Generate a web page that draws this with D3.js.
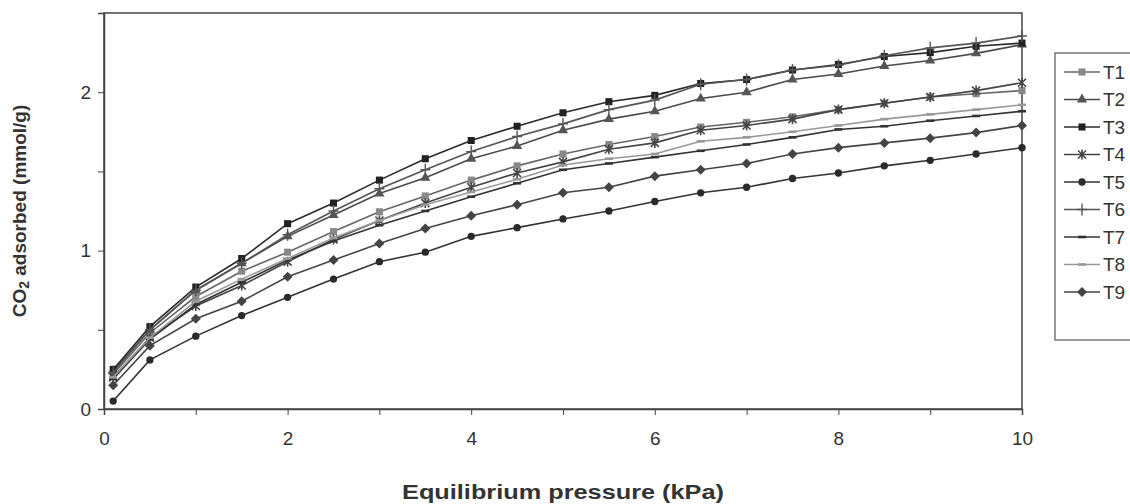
<!DOCTYPE html>
<html>
<head>
<meta charset="utf-8">
<script src="https://cdn.jsdelivr.net/npm/d3@7"></script>
<style>
  body { margin: 0; background: #fff; }
  svg text { font-family: "Liberation Sans", Arial, sans-serif; }
</style>
</head>
<body>
<svg id="chart" width="1130" height="504"></svg>
<script>
const pressure = [0.1, 0.5, 1, 1.5, 2, 2.5, 3, 3.5, 4, 4.5, 5, 5.5, 6, 6.5, 7, 7.5, 8, 8.5, 9, 9.5, 10];

const T1 = [0.22, 0.48, 0.71, 0.87, 0.99, 1.12, 1.245, 1.345, 1.445, 1.535, 1.61, 1.67, 1.72, 1.78, 1.81, 1.845, 1.89, 1.93, 1.97, 1.99, 2.01];
const T2 = [0.24, 0.50, 0.75, 0.92, 1.09, 1.225, 1.36, 1.46, 1.58, 1.66, 1.76, 1.83, 1.88, 1.96, 2.00, 2.08, 2.115, 2.165, 2.20, 2.245, 2.30];
const T3 = [0.25, 0.52, 0.77, 0.95, 1.17, 1.30, 1.445, 1.58, 1.695, 1.785, 1.87, 1.94, 1.98, 2.055, 2.08, 2.14, 2.175, 2.225, 2.25, 2.29, 2.31];
const T4 = [0.20, 0.45, 0.65, 0.78, 0.93, 1.07, 1.19, 1.30, 1.40, 1.49, 1.56, 1.64, 1.68, 1.76, 1.79, 1.83, 1.89, 1.93, 1.97, 2.01, 2.06];
const T5 = [0.05, 0.31, 0.46, 0.59, 0.705, 0.82, 0.93, 0.99, 1.09, 1.145, 1.20, 1.25, 1.31, 1.365, 1.40, 1.455, 1.49, 1.535, 1.57, 1.61, 1.65];
const T6 = [0.23, 0.50, 0.75, 0.92, 1.10, 1.25, 1.39, 1.51, 1.625, 1.72, 1.80, 1.89, 1.95, 2.05, 2.08, 2.14, 2.17, 2.23, 2.28, 2.31, 2.355];
const T7 = [0.19, 0.44, 0.66, 0.80, 0.94, 1.06, 1.16, 1.25, 1.34, 1.425, 1.51, 1.55, 1.59, 1.63, 1.67, 1.715, 1.765, 1.785, 1.82, 1.85, 1.88];
const T8 = [0.20, 0.45, 0.68, 0.82, 0.95, 1.08, 1.19, 1.29, 1.37, 1.45, 1.54, 1.58, 1.61, 1.69, 1.715, 1.75, 1.79, 1.83, 1.86, 1.89, 1.92];
const T9 = [0.15, 0.40, 0.57, 0.68, 0.835, 0.94, 1.045, 1.14, 1.22, 1.29, 1.365, 1.40, 1.47, 1.51, 1.55, 1.61, 1.65, 1.68, 1.71, 1.745, 1.79];

const seriesNames = ['T1', 'T2', 'T3', 'T4', 'T5', 'T6', 'T7', 'T8', 'T9'];
const xTicks = [0, 2, 4, 6, 8, 10];
const yTicks = [0, 1, 2];

const series = [
  {name: 'T1', values: T1, line: '#666', mark: '#888', shape: 'square'},
  {name: 'T2', values: T2, line: '#4a4a4a', mark: '#555', shape: 'triangle'},
  {name: 'T3', values: T3, line: '#2a2a2a', mark: '#222', shape: 'square'},
  {name: 'T4', values: T4, line: '#444', mark: '#444', shape: 'star'},
  {name: 'T5', values: T5, line: '#333', mark: '#2a2a2a', shape: 'circle'},
  {name: 'T6', values: T6, line: '#555', mark: '#555', shape: 'plus'},
  {name: 'T7', values: T7, line: '#333', mark: '#333', shape: 'dash'},
  {name: 'T8', values: T8, line: '#999', mark: '#999', shape: 'dash'},
  {name: 'T9', values: T9, line: '#444', mark: '#444', shape: 'diamond'}
];

const svg = d3.select('#chart');

const x = d3.scaleLinear().domain([0, 10]).range([104, 1022]);
const y = d3.scaleLinear().domain([0, 2.5]).range([409, 13]);

// frame
svg.append('rect')
  .attr('x', x(0)).attr('y', y(2.5))
  .attr('width', x(10) - x(0)).attr('height', y(0) - y(2.5))
  .attr('fill', 'none').attr('stroke', '#444').attr('stroke-width', 1.5);

// x axis
const xAxis = svg.append('g')
  .attr('transform', `translate(0,${y(0)})`)
  .call(d3.axisBottom(x).tickValues(d3.range(0, 11, 1)).tickSize(6).tickFormat(d => xTicks.includes(d) ? d : ''));
xAxis.select('.domain').attr('stroke', '#444').attr('stroke-width', 1.5);
xAxis.selectAll('.tick line').attr('stroke', '#444');
xAxis.selectAll('.tick text').attr('font-size', 19).attr('fill', '#333').attr('y', 23).attr('dy', '0.71em')
  .attr('font-family', '"Liberation Sans", Arial, sans-serif');

// y axis
const yAxis = svg.append('g')
  .attr('transform', `translate(${x(0)},0)`)
  .call(d3.axisLeft(y).tickValues(d3.range(0, 2.51, 0.5)).tickSize(6).tickFormat(d => yTicks.includes(d) ? d : ''));
yAxis.select('.domain').attr('stroke', '#444').attr('stroke-width', 1.5);
yAxis.selectAll('.tick line').attr('stroke', '#444');
yAxis.selectAll('.tick text').attr('font-size', 19).attr('fill', '#333').attr('x', -13)
  .attr('font-family', '"Liberation Sans", Arial, sans-serif');

// axis titles
svg.append('text')
  .attr('x', (x(0) + x(10)) / 2).attr('y', 499)
  .attr('text-anchor', 'middle').attr('font-size', 20).attr('font-weight', 'bold').attr('fill', '#333')
  .attr('textLength', 322).attr('lengthAdjust', 'spacingAndGlyphs')
  .text('Equilibrium pressure (kPa)');

const yt = svg.append('text')
  .attr('transform', `translate(26,${y(1.25)}) rotate(-90)`)
  .attr('text-anchor', 'middle').attr('font-size', 19).attr('font-weight', 'bold').attr('fill', '#333');
yt.append('tspan').text('CO');
yt.append('tspan').attr('font-size', 14).attr('dy', 3).text('2');
yt.append('tspan').attr('dy', -3).text(' adsorbed (mmol/g)');

function drawMarker(g, shape, color) {
  if (shape === 'square') {
    g.append('path').attr('d', d3.symbol(d3.symbolSquare, 50)()).attr('fill', color);
  } else if (shape === 'triangle') {
    g.append('path').attr('d', d3.symbol(d3.symbolTriangle, 45)()).attr('fill', color);
  } else if (shape === 'circle') {
    g.append('path').attr('d', d3.symbol(d3.symbolCircle, 42)()).attr('fill', color);
  } else if (shape === 'diamond') {
    g.append('path').attr('d', 'M0,-5L5,0L0,5L-5,0Z').attr('fill', color);
  } else if (shape === 'star') {
    g.append('path').attr('d', 'M-4,-4L4,4M-4,4L4,-4M0,-5L0,5')
      .attr('stroke', color).attr('stroke-width', 1.6).attr('fill', 'none');
  } else if (shape === 'plus') {
    g.append('path').attr('d', 'M-5,0L5,0M0,-6L0,6')
      .attr('stroke', color).attr('stroke-width', 1.4).attr('fill', 'none');
  } else if (shape === 'dash') {
    g.append('path').attr('d', 'M-4,0L4,0')
      .attr('stroke', color).attr('stroke-width', 2.6).attr('fill', 'none');
  }
}

const line = d3.line().x(d => x(d[0])).y(d => y(d[1]));

series.forEach(s => {
  const pts = pressure.map((p, i) => [p, s.values[i]]);
  const g = svg.append('g');
  g.append('path')
    .attr('d', line(pts))
    .attr('fill', 'none').attr('stroke', s.line).attr('stroke-width', 1.6);
  g.selectAll('g.m')
    .data(pts)
    .join('g')
    .attr('class', 'm')
    .attr('transform', d => `translate(${x(d[0])},${y(d[1])})`)
    .each(function() { drawMarker(d3.select(this), s.shape, s.mark); });
});

// legend
const legend = svg.append('g');
legend.append('rect')
  .attr('x', 1055).attr('y', 53).attr('width', 80).attr('height', 287)
  .attr('fill', '#fff').attr('stroke', '#555').attr('stroke-width', 1.2);

const ly = d3.scalePoint().domain(seriesNames).range([72, 292]);
series.forEach(s => {
  const row = legend.append('g').attr('transform', `translate(0,${ly(s.name)})`);
  row.append('line').attr('x1', 1064).attr('x2', 1100).attr('y1', 0).attr('y2', 0)
    .attr('stroke', s.line).attr('stroke-width', 1.6);
  drawMarker(row.append('g').attr('transform', 'translate(1082,0)'), s.shape, s.mark);
  row.append('text').attr('x', 1103).attr('y', 0).attr('dy', '0.36em')
    .attr('font-size', 19).attr('fill', '#333').text(s.name);
});
</script>
</body>
</html>
